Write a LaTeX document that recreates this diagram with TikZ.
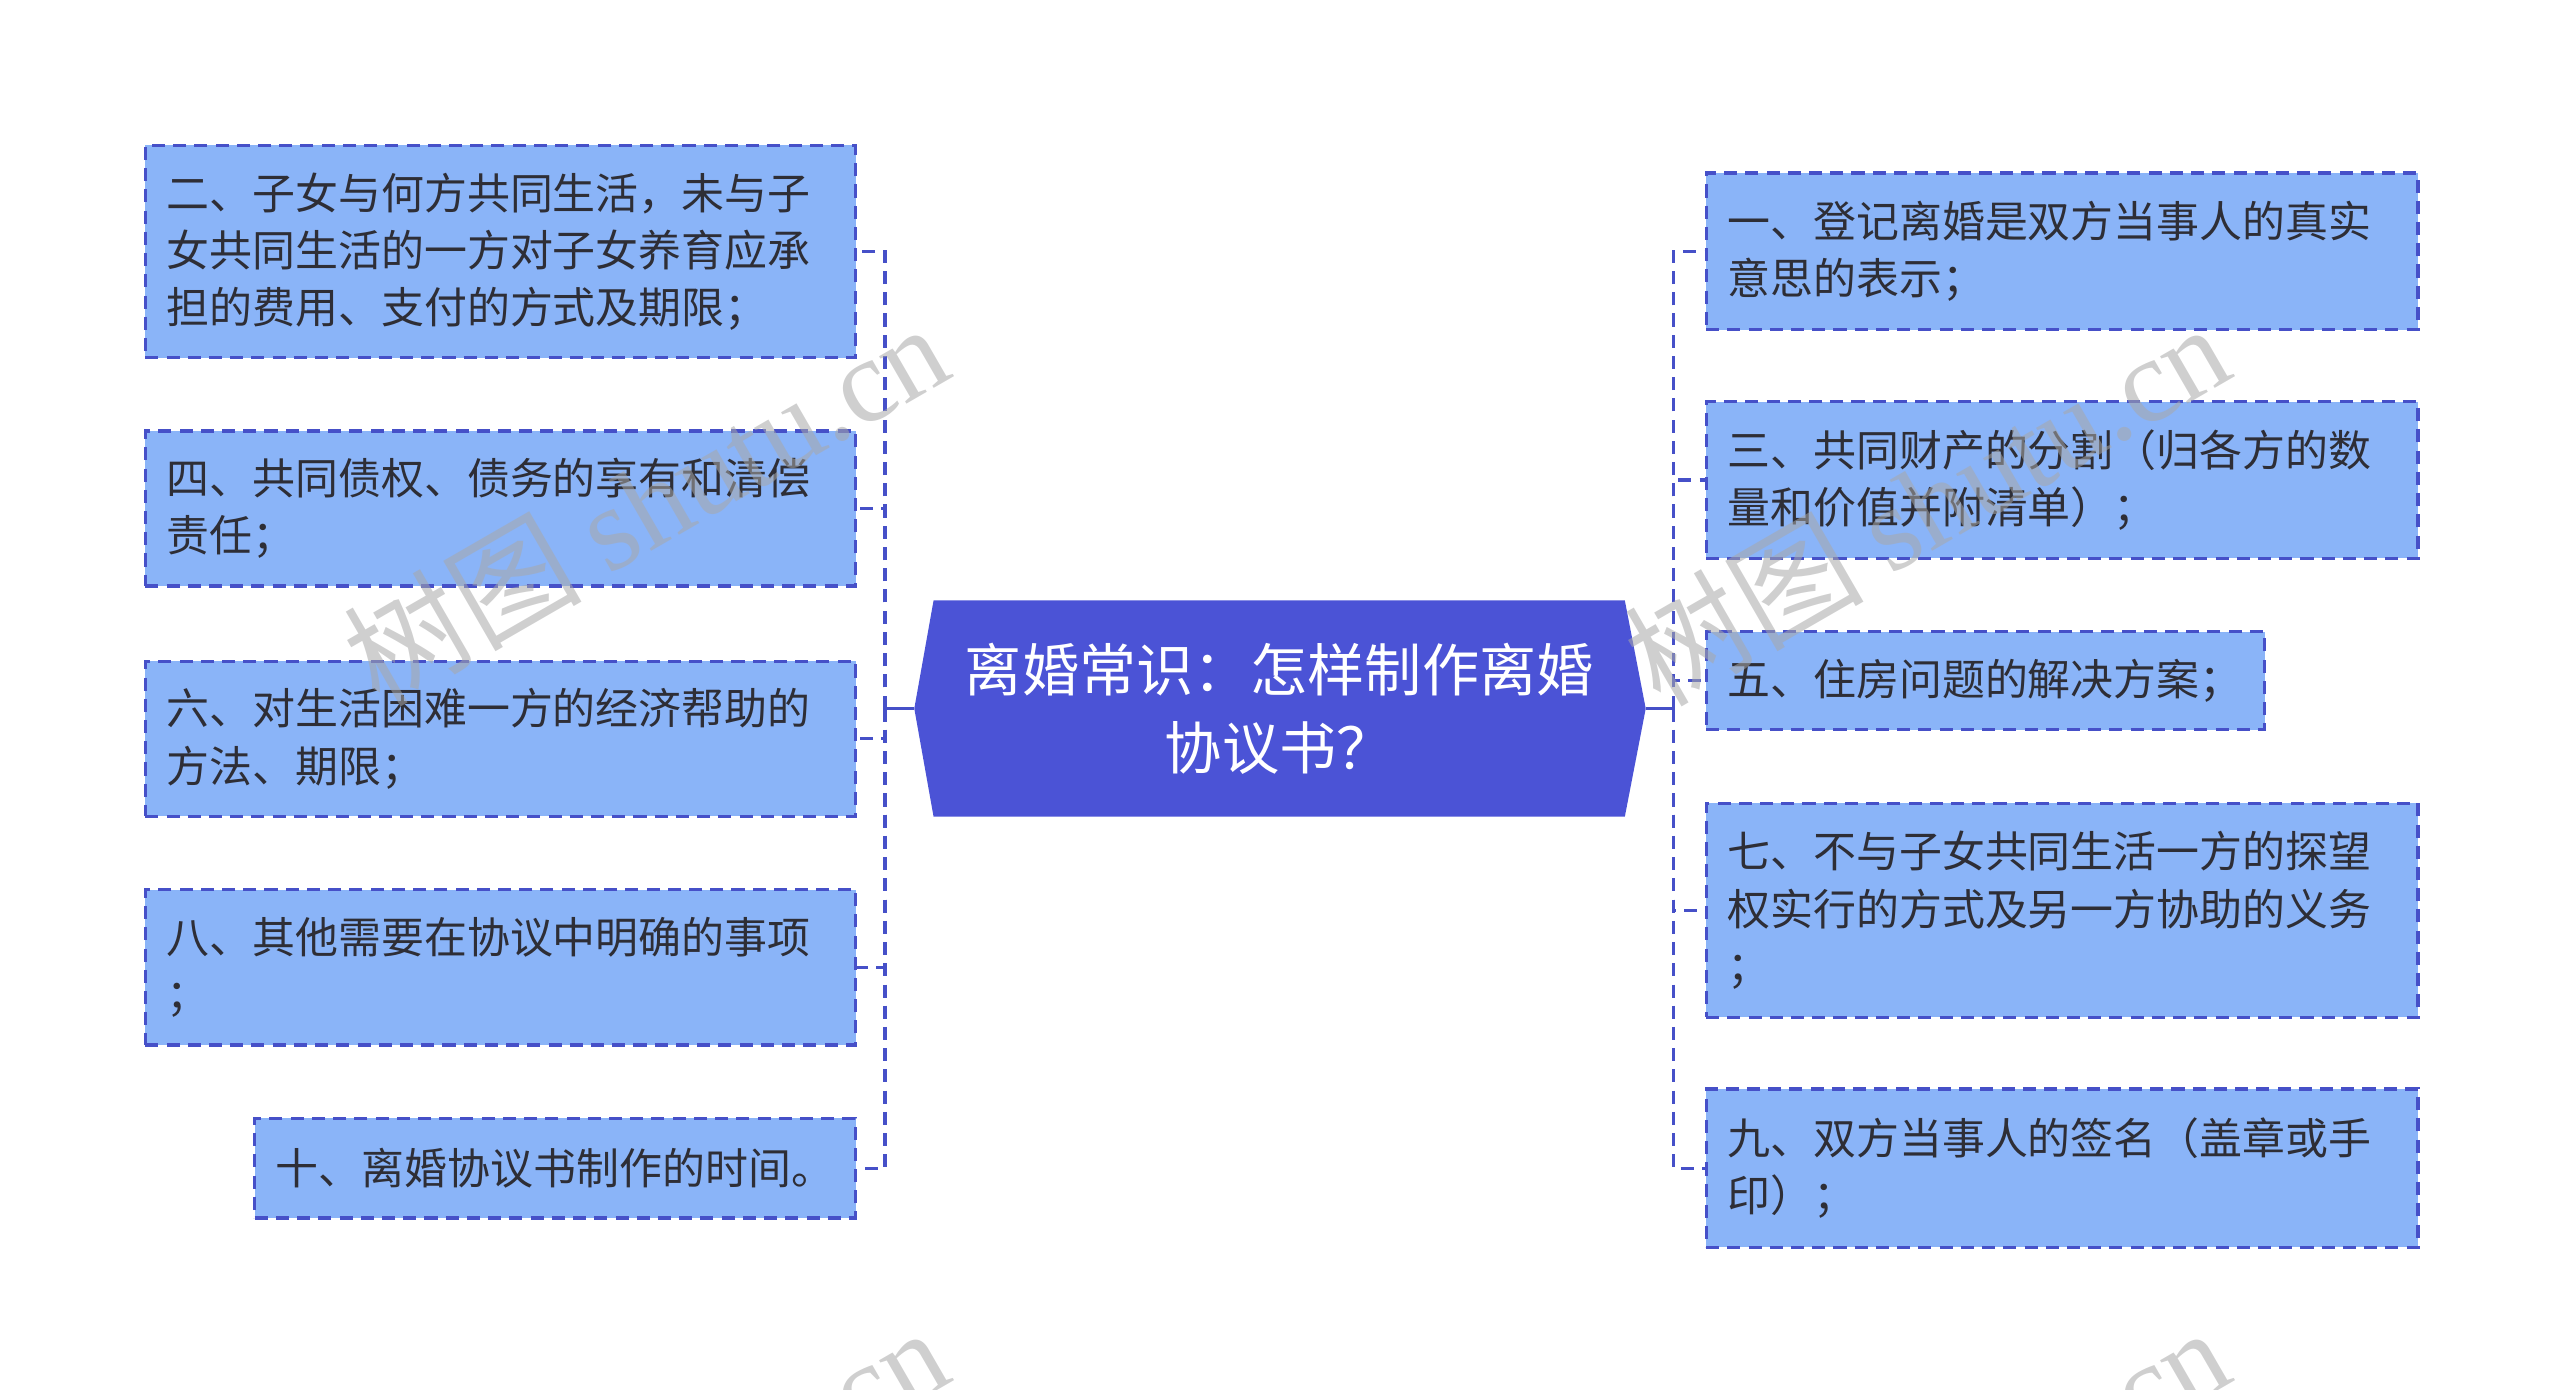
\documentclass[tikz,border=0pt]{standalone}
\usepackage{fontspec}
\setmainfont{Noto Sans CJK SC}
\newfontfamily\wmlatin{Liberation Serif}
\usetikzlibrary{backgrounds}
\definecolor{leaffill}{HTML}{8AB4F8}
\definecolor{leafline}{HTML}{4650C8}
\definecolor{rootfill}{HTML}{4B53D6}
\definecolor{txt}{HTML}{2E2E36}
\definecolor{wm}{HTML}{A8A8A8}
\begin{document}
\begin{tikzpicture}[x=1pt,y=-1pt,
  leaf/.style={draw=leafline, fill=leaffill, line width=2pt,
    dash pattern=on 8pt off 5pt, anchor=north west,
    inner xsep=13pt, inner ysep=0pt, align=left,
    font=\fontsize{26.3pt}{35pt}\selectfont, text=txt},
  root/.style={rectangle, inner sep=0pt, align=center, text=white,
    font=\fontsize{35pt}{48pt}\selectfont},
  conn/.style={draw=leafline, line width=2pt},
  dconn/.style={conn, dash pattern=on 8pt off 5pt},
  wmark/.style={text=wm, opacity=0.55, rotate=30, inner sep=0pt,
    font=\fontsize{73pt}{73pt}\selectfont}
]
\useasboundingbox (0,0) rectangle (1568,851);

% central node
\node[root, minimum width=423pt, minimum height=132pt] (c) at (783.5,434)
  {离婚常识：怎样制作离婚\\协议书？};
\coordinate (cl) at (560,434);
\coordinate (cr) at (1008,434);
\begin{scope}[on background layer]
  \fill[rootfill] (c.north west) -- (c.north east) -- (cr) -- (c.south east)
    -- (c.south west) -- (cl) -- cycle;
\end{scope}

% left leaves
\node[leaf, minimum width=435pt, minimum height=130pt, text width=409pt] (L1) at (88,88)
  {二、子女与何方共同生活，未与子\\女共同生活的一方对子女养育应承\\担的费用、支付的方式及期限；};
\node[leaf, minimum width=435pt, minimum height=95pt, text width=409pt] (L2) at (88,263)
  {四、共同债权、债务的享有和清偿\\责任；};
\node[leaf, minimum width=435pt, minimum height=95pt, text width=409pt] (L3) at (88,404)
  {六、对生活困难一方的经济帮助的\\方法、期限；};
\node[leaf, minimum width=435pt, minimum height=95pt, text width=409pt] (L4) at (88,544)
  {八、其他需要在协议中明确的事项\\；};
\node[leaf, minimum width=368pt, minimum height=61pt, text width=342pt] (L5) at (155,684)
  {十、离婚协议书制作的时间。};

% right leaves
\node[leaf, minimum width=436pt, minimum height=96pt, text width=410pt] (R1) at (1044,105)
  {一、登记离婚是双方当事人的真实\\意思的表示；};
\node[leaf, minimum width=436pt, minimum height=96pt, text width=410pt] (R2) at (1044,245)
  {三、共同财产的分割（归各方的数\\量和价值并附清单）；};
\node[leaf, minimum width=342pt, minimum height=60pt, text width=316pt] (R3) at (1044,386)
  {五、住房问题的解决方案；};
\node[leaf, minimum width=436pt, minimum height=131pt, text width=410pt] (R4) at (1044,491)
  {七、不与子女共同生活一方的探望\\权实行的方式及另一方协助的义务\\；};
\node[leaf, minimum width=436pt, minimum height=97pt, text width=410pt] (R5) at (1044,666)
  {九、双方当事人的签名（盖章或手\\印）；};

% connectors
\coordinate (lb) at (542,434);
\coordinate (rb) at (1025,434);
\draw[conn] (cl) -- (lb);
\draw[conn] (cr) -- (rb);
\foreach \n in {L1,L2,L3,L4,L5} \draw[dconn] (lb) |- (\n.east);
\foreach \n in {R1,R2,R3,R4,R5} \draw[dconn] (rb) |- (\n.west);

% watermarks
\node[wmark] (w1) at (395,308) {树图 {\wmlatin shutu.cn}};
\node[wmark] (w2) at (1180,308) {树图 {\wmlatin shutu.cn}};
\node[wmark] (w3) at (395,923) {树图 {\wmlatin shutu.cn}};
\node[wmark] (w4) at (1180,923) {树图 {\wmlatin shutu.cn}};
\end{tikzpicture}
\end{document}
